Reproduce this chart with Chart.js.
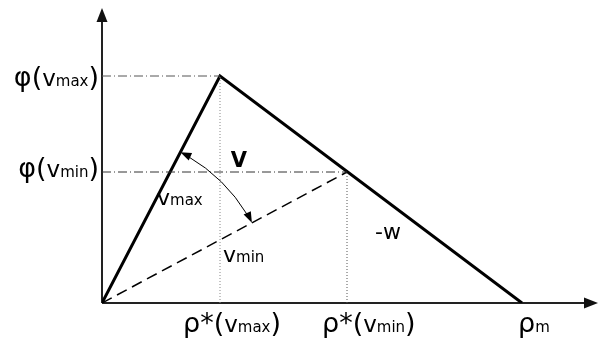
<!DOCTYPE html>
<html>
<head>
<meta charset="utf-8">
<script src="https://cdn.jsdelivr.net/npm/chart.js@4"></script>
<style>
  html, body { margin: 0; padding: 0; background: #fff; }
  canvas { display: block; }
</style>
</head>
<body>
<canvas id="chart" width="605" height="341"></canvas>
<script>
// Flow-density diagram: density rho on x, flow phi on y (1 unit = 1 px)
const triangleX = [0, 118, 420];
const triangleY = [0, 227, 0];
const vminLineX = [0, 245];
const vminLineY = [0, 131];
const axisMax = [496, 295];

const phiLevels = [227, 131];
const phiLabels = ['φ(v_{max})', 'φ(v_{min})'];
const rhoTicks = [118, 245, 420];
const rhoLabels = ['ρ*(v_{max})', 'ρ*(v_{min})', 'ρ_{m}'];

const arcRadius = 170;

const FONT = '"DejaVu Sans", Verdana, sans-serif';

const pts = (xs, ys) => xs.map((x, i) => ({ x, y: ys[i] }));

// draws 'a(v_{sub})' : symbols at `big`, the v a bit smaller, subscript at `small`
function drawRich(ctx, str, x, y, big, vSize, small, align) {
  const parts = [];
  const re = /_\{(.*?)\}/g;
  let last = 0, m;
  while ((m = re.exec(str))) {
    if (m.index > last) parts.push([str.slice(last, m.index), big]);
    parts.push([m[1], small]);
    last = re.lastIndex;
  }
  if (last < str.length) parts.push([str.slice(last), big]);
  const sized = parts.map(([t, s]) => {
    if (s === big && /v$/.test(t)) {
      return t.length > 1 ? [[t.slice(0, -1), s], ['v', vSize]] : [['v', vSize]];
    }
    return [[t, s]];
  }).flat();
  let w = 0;
  sized.forEach(([t, s]) => { ctx.font = s + 'px ' + FONT; w += ctx.measureText(t).width; });
  let cx = align === 'right' ? x - w : align === 'center' ? x - w / 2 : x;
  ctx.textAlign = 'left';
  ctx.textBaseline = 'alphabetic';
  sized.forEach(([t, s]) => {
    ctx.font = s + 'px ' + FONT;
    ctx.fillText(t, cx, y);
    cx += ctx.measureText(t).width;
  });
  return w;
}

function arrowHead(ctx, tipX, tipY, ang, len, half) {
  ctx.beginPath();
  ctx.moveTo(tipX, tipY);
  ctx.lineTo(tipX - len * Math.cos(ang) + half * Math.sin(ang), tipY - len * Math.sin(ang) - half * Math.cos(ang));
  ctx.lineTo(tipX - len * Math.cos(ang) - half * Math.sin(ang), tipY - len * Math.sin(ang) + half * Math.cos(ang));
  ctx.closePath();
  ctx.fill();
}

const diagram = {
  id: 'diagram',
  beforeDatasetsDraw(chart) {
    const { ctx, scales: { x, y } } = chart;
    const x0 = x.getPixelForValue(0), y0 = y.getPixelForValue(0);
    ctx.save();
    ctx.strokeStyle = '#222';
    ctx.fillStyle = '#111';
    ctx.lineWidth = 2;
    // axes with arrows
    ctx.beginPath();
    ctx.moveTo(x0, y0);
    ctx.lineTo(x.getPixelForValue(axisMax[0]) - 10, y0);
    ctx.moveTo(x0, y0);
    ctx.lineTo(x0, y.getPixelForValue(axisMax[1]) + 10);
    ctx.stroke();
    arrowHead(ctx, x.getPixelForValue(axisMax[0]), y0, 0, 14, 5.5);
    arrowHead(ctx, x0, y.getPixelForValue(axisMax[1]), -Math.PI / 2, 14, 5.5);
    ctx.restore();
  },
  afterDatasetsDraw(chart) {
    const { ctx, scales: { x, y } } = chart;
    const x0 = x.getPixelForValue(0), y0 = y.getPixelForValue(0);
    ctx.save();
    ctx.fillStyle = '#000';
    // y labels
    const phiShift = [10, 5];
    phiLabels.forEach((t, i) => drawRich(ctx, t, 99, y.getPixelForValue(phiLevels[i]) + phiShift[i], 27, 23, 15, 'right'));
    // x labels
    const rhoLeft = [-37, -25, -4];
    rhoLabels.forEach((t, i) => drawRich(ctx, t, x.getPixelForValue(rhoTicks[i]) + rhoLeft[i], 332, 27, 23, 15, 'left'));

    // curved arrow V between the two velocity lines
    const r = x.getPixelForValue(arcRadius) - x0;
    const a1 = -Math.atan2(triangleY[1], triangleX[1]);
    const a2 = -Math.atan2(vminLineY[1], vminLineX[1]);
    const s1 = a1 + 0.05, s2 = a2 - 0.055;
    ctx.strokeStyle = '#000';
    ctx.lineWidth = 1;
    ctx.beginPath();
    ctx.arc(x0, y0, r, s1, s2);
    ctx.stroke();
    const tip1x = x0 + r * Math.cos(a1), tip1y = y0 + r * Math.sin(a1);
    const tip2x = x0 + r * Math.cos(a2), tip2y = y0 + r * Math.sin(a2);
    arrowHead(ctx, tip1x, tip1y, a1 - Math.PI / 2 - 0.05, 11, 4);
    arrowHead(ctx, tip2x, tip2y, a2 + Math.PI / 2 + 0.05, 11, 4);

    ctx.font = 'bold 21px ' + FONT;
    ctx.textAlign = 'center';
    ctx.textBaseline = 'alphabetic';
    ctx.fillText('V', 239, 167);
    drawRich(ctx, 'v_{max}', 157, 205, 22, 22, 15, 'left');
    drawRich(ctx, 'v_{min}', 223, 262, 22, 22, 15, 'left');
    ctx.font = '22px ' + FONT;
    ctx.textAlign = 'left';
    ctx.fillText('-w', 375, 239);
    ctx.restore();
  }
};

const guide = (xs, ys, color, dash) => ({
  data: pts(xs, ys), showLine: true, borderColor: color, borderWidth: 1,
  borderDash: dash, pointRadius: 0, fill: false
});

new Chart(document.getElementById('chart'), {
  type: 'scatter',
  data: {
    datasets: [
      guide([0, triangleX[1]], [phiLevels[0], phiLevels[0]], '#555', [9, 3, 1, 3]),
      guide([0, vminLineX[1]], [phiLevels[1], phiLevels[1]], '#333', [9, 3, 1, 3]),
      guide([rhoTicks[0], rhoTicks[0]], [0, phiLevels[0]], '#888', [1, 2]),
      guide([rhoTicks[1], rhoTicks[1]], [0, phiLevels[1]], '#555', [1, 2]),
      {
        data: pts(vminLineX, vminLineY), showLine: true, borderColor: '#000',
        borderWidth: 1.5, borderDash: [11, 6], pointRadius: 0
      },
      {
        data: pts(triangleX, triangleY), showLine: true, borderColor: '#000',
        borderWidth: 3, pointRadius: 0, borderJoinStyle: 'miter'
      }
    ]
  },
  options: {
    responsive: false,
    animation: false,
    layout: { padding: { left: 102, right: 7, top: 8, bottom: 38 } },
    plugins: { legend: { display: false }, tooltip: { enabled: false } },
    scales: {
      x: { type: 'linear', min: 0, max: axisMax[0], display: false },
      y: { type: 'linear', min: 0, max: axisMax[1], display: false }
    }
  },
  plugins: [diagram]
});
</script>
</body>
</html>
